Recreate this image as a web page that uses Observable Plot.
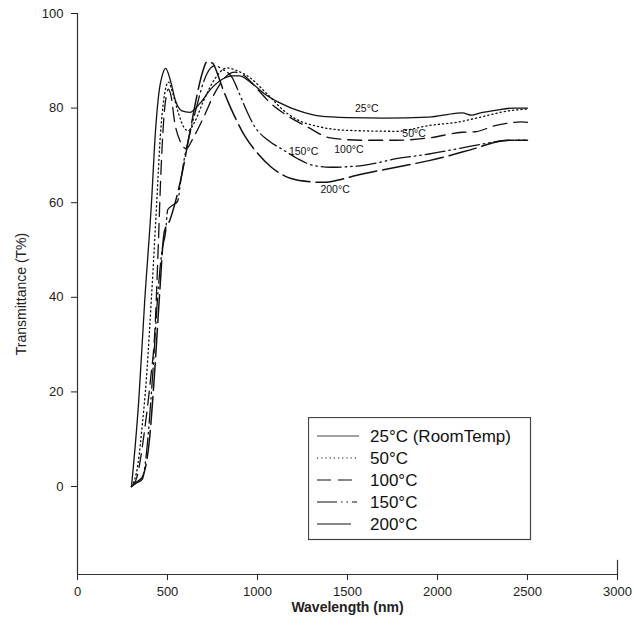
<!DOCTYPE html>
<html>
<head>
<meta charset="utf-8">
<script src="https://cdn.jsdelivr.net/npm/d3@7"></script>
<script src="https://cdn.jsdelivr.net/npm/@observablehq/plot@0.6"></script>
<style>
  html, body { margin: 0; padding: 0; background: #fff; }
  #wrap { position: relative; width: 634px; height: 626px; font-family: "Liberation Sans", Arial, sans-serif; }
  #legend { position: absolute; left: 308px; top: 417px; }
</style>
</head>
<body>
<div id="wrap"><div id="chart"></div><div id="legend"></div></div>
<script>
// Series names
const seriesNames = ["25°C (RoomTemp)", "50°C", "100°C", "150°C", "200°C"];
const curveLabels = ["25°C", "50°C", "100°C", "150°C", "200°C"];

// 25°C (room temp) — solid
const wl25 = [300, 340, 373, 411, 433, 455, 470, 490, 515, 545, 580, 623, 680, 740, 800, 860, 900, 960, 1040, 1130, 1223, 1350, 1500, 1700, 1950, 2100, 2137, 2192, 2230, 2320, 2420, 2500];
const t25  = [0, 18, 39, 60, 75, 84, 86.8, 88.4, 86, 81.5, 79.4, 79.1, 81, 84, 86, 86.8, 86.8, 85.5, 83, 81, 79.5, 78.3, 78, 77.9, 78.1, 78.9, 79, 78.5, 78.9, 79.5, 80, 80];

// 50°C — dotted
const wl50 = [300, 336, 360, 382, 400, 420, 440, 460, 480, 505, 530, 560, 590, 615, 650, 700, 760, 830, 880, 966, 1040, 1168, 1223, 1350, 1500, 1771, 1950, 2137, 2228, 2411, 2500];
const t50  = [0, 4.8, 13, 22.4, 33, 46, 60, 74, 82, 85.5, 83, 79, 76, 75.2, 77, 81.5, 86, 88.5, 88, 86.2, 83.5, 78.8, 77.5, 76, 75.3, 75.1, 76.3, 77.2, 78, 79.5, 79.8];

// 100°C — dashed
const wl100 = [300, 330, 373, 405, 430, 448, 462, 478, 495, 505, 520, 540, 570, 605, 640, 700, 760, 820, 876, 920, 1000, 1060, 1150, 1278, 1405, 1589, 1771, 1953, 2137, 2210, 2320, 2375, 2466, 2500];
const t100  = [0, 2, 12, 22.4, 33, 50, 65, 77, 83, 84, 82.5, 77, 73, 71.4, 73.5, 78, 83, 86.5, 87.6, 87, 84, 81.5, 78.8, 76, 73.7, 73.2, 73.2, 73.7, 74.9, 75, 76.3, 76.7, 77.1, 77];

// 150°C — dash-dot-dot
const wl150 = [300, 330, 360, 380, 395, 420, 445, 470, 490, 501, 530, 556, 575, 592, 620, 660, 700, 740, 765, 800, 857, 900, 931, 986, 1059, 1150, 1223, 1300, 1405, 1589, 1771, 1953, 2137, 2265, 2400, 2500];
const t150  = [0, 0.8, 1.5, 6, 12, 25, 40, 50, 54, 58.5, 59.5, 60.3, 65, 69, 74, 80, 85.5, 88.5, 89, 88.3, 86.6, 83, 80.2, 76, 73.2, 71, 69.3, 68, 67.5, 67.9, 69.3, 70.3, 71.6, 72.5, 73.2, 73.2];

// 200°C — long dash
const wl200 = [300, 330, 360, 400, 430, 455, 483, 510, 546, 580, 620, 660, 690, 720, 750, 780, 803, 840, 876, 931, 1004, 1077, 1187, 1300, 1369, 1450, 1552, 1771, 1953, 2137, 2228, 2320, 2420, 2500];
const t200  = [0, 1, 2, 10, 25, 40, 54, 56, 60.5, 66, 74, 82, 87, 89.8, 89.5, 87, 84.5, 81, 78, 74, 70.3, 67.5, 65.1, 64.4, 64.3, 64.8, 65.8, 67.5, 68.9, 70.7, 71.7, 72.8, 73.2, 73.2];

// In-plot label positions (data units)
const labelX = [1607, 1870, 1508, 1256, 1431];
const labelY = [79.8, 74.6, 71.2, 70.8, 62.7];

// Axis ticks and domains
const xTicks = [0, 500, 1000, 1500, 2000, 2500, 3000];
const yTicks = [0, 20, 40, 60, 80, 100];
const xDomain = [0, 3000];
const yDomain = [-18.6, 100];

const styles = [
  {dash: null, width: 1.3},
  {dash: "1.2,3", width: 1.3},
  {dash: "14,7", width: 1.3},
  {dash: "20,4,1.5,4,1.5,4", width: 1.3},
  {dash: "28,6", width: 1.5}
];

const wls = [wl25, wl50, wl100, wl150, wl200];
const ts = [t25, t50, t100, t150, t200];

const lineMarks = wls.map((w, i) => {
  const data = w.map((x, j) => ({x, y: ts[i][j]}));
  return Plot.line(data, {
    x: "x", y: "y", curve: "monotone-x",
    stroke: "#111", strokeWidth: styles[i].width,
    strokeDasharray: styles[i].dash || undefined
  });
});

const labelData = curveLabels.map((t, i) => ({t, x: labelX[i], y: labelY[i]}));

const chart = Plot.plot({
  width: 634,
  height: 626,
  marginLeft: 77,
  marginRight: 17,
  marginTop: 13,
  marginBottom: 52,
  style: {fontFamily: "Liberation Sans, Arial, sans-serif", fontSize: "13px", color: "#222", background: "#fff"},
  x: {domain: xDomain},
  y: {domain: yDomain},
  marks: [
    Plot.axisX({ticks: xTicks, tickFormat: d => String(d), tickSize: 6, tickPadding: 6, fontSize: 13, label: "Wavelength (nm)", labelAnchor: "center", labelOffset: 37, labelArrow: "none"}),
    Plot.axisY({ticks: yTicks, tickFormat: d => String(d), tickSize: 6, tickPadding: 8, fontSize: 13, label: "Transmittance (T%)", labelAnchor: "center", labelOffset: 61, labelArrow: "none"}),
    Plot.ruleY([yDomain[0]], {stroke: "#333", strokeWidth: 1.2}),
    Plot.ruleX([xDomain[0]], {stroke: "#333", strokeWidth: 1.2}),
    Plot.ruleX([xDomain[1]], {y1: yDomain[0], y2: yDomain[0] + 3, stroke: "#333", strokeWidth: 1.2}),
    ...lineMarks,
    Plot.text(labelData, {x: "x", y: "y", text: "t", fontSize: 10.5, fill: "#111"})
  ]
});
document.getElementById("chart").appendChild(chart);

// style axis labels
d3.select(chart).selectAll("[aria-label='x-axis label'] text").style("font-weight", "bold").style("font-size", "14px");
d3.select(chart).selectAll("[aria-label='y-axis label'] text").style("font-size", "14px");

// Legend
const lg = d3.select("#legend").append("svg").attr("width", 224).attr("height", 124)
  .style("font-family", "Liberation Sans, Arial, sans-serif");
lg.append("rect").attr("x", 0.5).attr("y", 0.5).attr("width", 222).attr("height", 122)
  .attr("fill", "#fff").attr("stroke", "#444").attr("stroke-width", 1.2);
const legLen = [42, 42, 40, 40, 34];
seriesNames.forEach((name, i) => {
  const cy = 19 + i * 22;
  lg.append("line").attr("x1", 9).attr("x2", 9 + legLen[i]).attr("y1", cy).attr("y2", cy)
    .attr("stroke", "#111").attr("stroke-width", i === 0 ? 0.8 : 1.2)
    .attr("stroke-dasharray", styles[i].dash === "28,6" ? null : styles[i].dash);
  lg.append("text").attr("x", 62).attr("y", cy).attr("dy", "0.36em")
    .attr("font-size", 17).attr("fill", "#111").text(name);
});
</script>
</body>
</html>
